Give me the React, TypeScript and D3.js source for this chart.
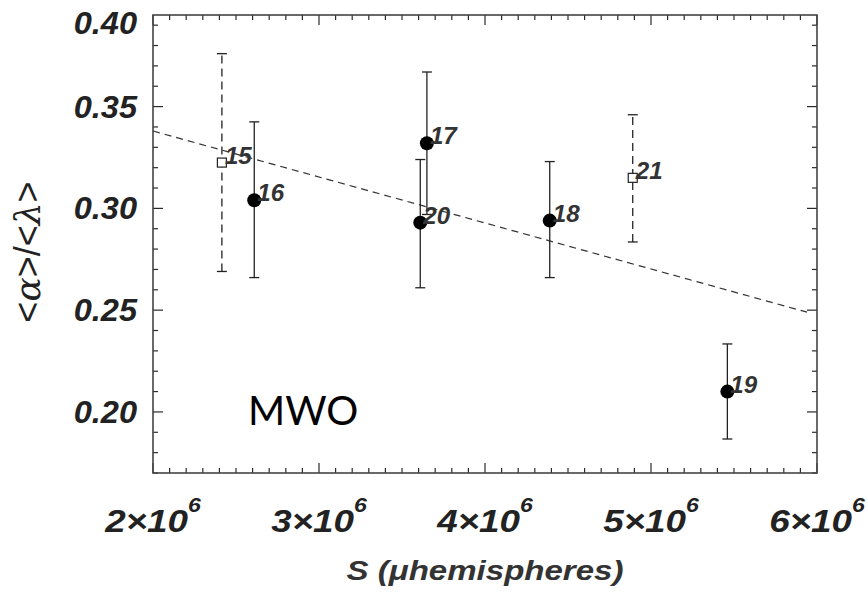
import React from "react";
import * as d3 from "d3";

const ids = ["15", "16", "17", "20", "18", "21", "19"];
const sVals = [2.415e6, 2.61e6, 3.65e6, 3.61e6, 4.39e6, 4.89e6, 5.46e6];
const ratio = [0.3225, 0.304, 0.332, 0.293, 0.294, 0.315, 0.21];
const errLo = [0.269, 0.266, 0.297, 0.261, 0.266, 0.2835, 0.1867];
const errHi = [0.376, 0.3425, 0.367, 0.324, 0.323, 0.346, 0.2334];
const openMarker = [true, false, false, false, false, true, false];

const fitS = [2.0e6, 5.94e6];
const fitR = [0.338, 0.249];

const xTicks = [2, 3, 4, 5, 6];
const yTicks = [0.2, 0.25, 0.3, 0.35, 0.4];

const W = 867, H = 593;
const L = 153, R = 817, T = 15, B = 473;

export default function App() {
  const x = d3.scaleLinear().domain([2e6, 6e6]).range([L, R]);
  const y = d3.scaleLinear().domain([0.17, 0.395]).range([B, T]);
  const minorX = d3.range(20, 61).map((v) => v * 1e5);
  const minorY = d3.range(17, 40).map((v) => v / 100);
  const line = d3.line<number>().x((_, i) => x(fitS[i])).y((_, i) => y(fitR[i]));
  const ink = "#2a2a2a";
  const sans = "'Liberation Sans', Arial, Helvetica, sans-serif";
  return (
    <svg width={W} height={H} style={{ position: "absolute", left: 0, top: 0, background: "#fff" }}>
      <rect x={0} y={0} width={W} height={H} fill="#fff" />
      {minorX.map((v, i) => {
        const major = Math.round(v / 1e5) % 10 === 0;
        const len = major ? 10 : 5;
        return (
          <g key={"xt" + i} stroke={ink} strokeWidth={1.2}>
            <line x1={x(v)} x2={x(v)} y1={B} y2={B - len} />
            <line x1={x(v)} x2={x(v)} y1={T} y2={T + len} />
          </g>
        );
      })}
      {minorY.map((v, i) => {
        const major = Math.round(v * 100) % 5 === 0;
        const len = major ? 10 : 5;
        return (
          <g key={"yt" + i} stroke={ink} strokeWidth={1.2}>
            <line x1={L} x2={L + len} y1={y(v)} y2={y(v)} />
            <line x1={R} x2={R - len} y1={y(v)} y2={y(v)} />
          </g>
        );
      })}
      <rect x={L} y={T} width={R - L} height={B - T} fill="none" stroke="#444" strokeWidth={1.6} />
      <path d={line(fitS) || ""} fill="none" stroke="#333" strokeWidth={1.2} strokeDasharray="7,5" />
      {ids.map((id, i) => {
        const cx = x(sVals[i]);
        const dash = openMarker[i] ? "8,5" : undefined;
        return (
          <g key={"e" + id} stroke="#222" strokeWidth={1.3}>
            <line x1={cx} x2={cx} y1={y(errLo[i])} y2={y(errHi[i])} strokeDasharray={dash} />
            <line x1={cx - 5} x2={cx + 5} y1={y(errLo[i])} y2={y(errLo[i])} />
            <line x1={cx - 5} x2={cx + 5} y1={y(errHi[i])} y2={y(errHi[i])} />
          </g>
        );
      })}
      {ids.map((id, i) => {
        const cx = x(sVals[i]);
        const cy = y(ratio[i]);
        return openMarker[i] ? (
          <rect key={"m" + id} x={cx - 4.5} y={cy - 4.5} width={9} height={9} fill="#fff" stroke="#222" strokeWidth={1.2} />
        ) : (
          <circle key={"m" + id} cx={cx} cy={cy} r={7} fill="#000" />
        );
      })}
      {ids.map((id, i) => (
        <text
          key={"l" + id}
          transform={`translate(${x(sVals[i]) + 3},${y(ratio[i]) + 1}) scale(1.05,1)`}
          fontFamily={sans}
          fontWeight="bold"
          fontStyle="italic"
          fontSize={23}
          fill="#333"
        >
          {id}
        </text>
      ))}
      {yTicks.map((v) => (
        <text
          key={"yl" + v}
          transform={`translate(137,${Math.max(y(v), T + 8) + 11}) scale(1.05,1)`}
          textAnchor="end"
          fontFamily={sans}
          fontWeight="bold"
          fontStyle="italic"
          fontSize={31}
          fill="#222"
        >
          {v.toFixed(2)}
        </text>
      ))}
      {xTicks.map((v) => (
        <text
          key={"xl" + v}
          transform={`translate(${x(v * 1e6)},532) scale(1.15,1)`}
          textAnchor="middle"
          fontFamily={sans}
          fontWeight="bold"
          fontStyle="italic"
          fontSize={32}
          fill="#222"
        >
          {v}×10
          <tspan dy={-20} fontSize={20}>6</tspan>
        </text>
      ))}
      <text
        transform={`translate(${(L + R) / 2},580) scale(1.18,1)`}
        textAnchor="middle"
        fontFamily={sans}
        fontWeight="bold"
        fontStyle="italic"
        fontSize={28}
        fill="#333"
      >
        S (μhemispheres)
      </text>
      <text
        transform={`translate(40,252) rotate(-90)`}
        textAnchor="middle"
        fontFamily={sans}
        fontSize={36}
        fill="#222"
      >
        {"<"}
        <tspan fontFamily="'DejaVu Serif', 'Liberation Serif', serif" fontStyle="italic">α</tspan>
        {">/<"}
        <tspan fontFamily="'DejaVu Serif', 'Liberation Serif', serif" fontStyle="italic">λ</tspan>
        {">"}
      </text>
      <text x={248} y={425} fontFamily="Lato, 'Open Sans', sans-serif" fontSize={40} fill="#000">
        MWO
      </text>
    </svg>
  );
}
